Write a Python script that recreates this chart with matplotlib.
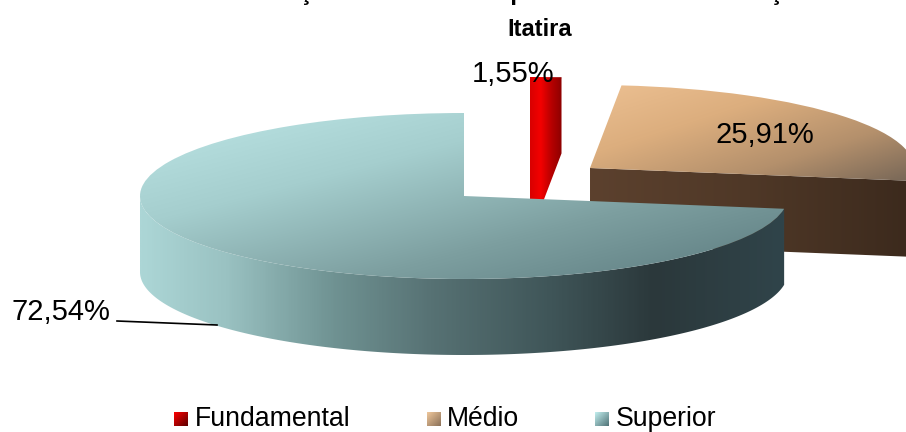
import numpy as np
import matplotlib
matplotlib.use("Agg")
import matplotlib.pyplot as plt
from matplotlib.colors import LinearSegmentedColormap as LSC
from matplotlib.patches import Polygon, Rectangle

plt.rcParams['font.family'] = ['Liberation Sans', 'DejaVu Sans']

categories = ['Fundamental', 'Médio', 'Superior']
values = [1.55, 25.91, 72.54]
value_labels = ['1,55%', '25,91%', '72,54%']
title_cut = 'Distribuição dos docentes por nível de escolarização em'
title_line = 'Itatira'

W, H = 906, 432
RX, RY, DEPTH = 324, 83, 76
S = RX / RY
centers_px = [(530, 160), (590, 168), (464, 196)]
red_cols = ['#d80000', '#f40000', '#b80000', '#8c0000']
top_cols = [red_cols,
            ['#ecc092', '#dcae7e', '#b4906c', '#6f6154'],
            ['#bde6e6', '#a5cece', '#7d9fa0', '#5b7a7e']]
wall_cols = [red_cols,
             ['#5c412e', '#4f3827', '#3c2a1d'],
             [(0, '#acd6d6'), (.13, '#9ac2c2'), (.30, '#6f9292'), (.45, '#577274'),
              (.64, '#3f5558'), (.80, '#2b383b'), (1, '#30444a')]]

def Y(py):
    return (H - py) * S

fig = plt.figure(figsize=(W / 100, H / 100), dpi=100)
ax = fig.add_axes([0, 0, 1, 1])
wedges, _ = ax.pie(values, startangle=90, counterclock=False, radius=RX)
ax.set_aspect('auto')
ax.axis('off')

def grad_fill(patch, cols, extent, diag=False, z=1):
    n = 200
    xx, yy = np.meshgrid(np.linspace(0, 1, n), np.linspace(0, 1, n))
    g = (xx + yy) / 2 if diag else xx
    cm = LSC.from_list('c', cols)
    im = ax.imshow(g, cmap=cm, vmin=0, vmax=1, extent=extent, aspect='auto',
                   origin='upper', zorder=z, interpolation='bilinear')
    im.set_clip_path(patch)

def arc(cx, cy, t1, t2, n=300):
    t = np.radians(np.linspace(t1, t2, n))
    return np.c_[cx + RX * np.cos(t), cy + RX * np.sin(t)]

dz = DEPTH * S
for rank, i in enumerate([1, 0, 2]):
    w = wedges[i]
    cx_px, cy_px = centers_px[i]
    cx, cy = cx_px, Y(cy_px)
    w.set_center((cx, cy))
    w.set_facecolor('none')
    w.set_edgecolor('none')
    base = 2 + rank * 3
    t1, t2 = w.theta1, w.theta2
    if i in (0, 1):
        # radial cut face turned to the viewer
        a = arc(cx, cy, t1, t1, 1)[0]
        # the thin red slice shares one gradient, so its face runs under the top
        inner = [cx, cy + RX * 0.98] if i == 0 else [cx, cy]
        quad = np.array([inner, a, a - [0, dz], [cx, cy - dz]])
        p = Polygon(quad, closed=True, fc='none', ec='none', zorder=base)
        ax.add_patch(p)
        e = (min(cx, a[0]), max(cx, a[0]), cy - RX - dz, cy + RX)
        grad_fill(p, wall_cols[i], e, z=base)
    else:
        # front part of the outer wall
        top = arc(cx, cy, -180, t2)
        quad = np.r_[top, (top - [0, dz])[::-1]]
        p = Polygon(quad, closed=True, fc='none', ec='none', zorder=base)
        ax.add_patch(p)
        grad_fill(p, wall_cols[i], (quad[:, 0].min(), quad[:, 0].max(), cy - RX - dz, cy + RX), z=base)
    if i == 0:
        a = arc(cx, cy, t1, t1, 1)[0]
        ext, diag = (cx, a[0], cy - RX, cy + RX), False
    elif i == 1:
        ext, diag = (cx, cx + RX, cy - 0.25 * RX, cy + RX), True
    else:
        ext, diag = (cx - RX, cx + RX, cy - RX, cy + RX), True
    grad_fill(w, top_cols[i], ext, diag=diag, z=base + 1)
    w.set_zorder(base + 1)

# text
ax.text(202, Y(0), title_cut, ha='left', va='baseline', fontsize=17.4, fontweight='bold', zorder=20)
ax.text(540, Y(29), title_line, ha='center', va='center', fontsize=17, fontweight='bold', zorder=20)
lab_xy = [(513, 74), (765, 135), (61, 312)]
for (x, y), s in zip(lab_xy, value_labels):
    ax.text(x, Y(y), s, ha='center', va='center', fontsize=21, color='#000000', zorder=20)
ax.plot([117, 217], [Y(321), Y(325)], color='black', lw=1.2, zorder=20)

# legend
leg_x = [(174, 195), (427, 447), (595, 616)]
leg_cols = [['#ff0000', '#5a0000'], ['#f0c89c', '#8a7058'], ['#c4f0f0', '#4f7276']]
for (bx, tx), name, cols in zip(leg_x, categories, leg_cols):
    r = Rectangle((bx, Y(426)), 14, 14 * S, fc='none', ec='none', zorder=20)
    ax.add_patch(r)
    grad_fill(r, cols, (bx, bx + 14, Y(426), Y(412)), diag=True, z=20)
    ax.text(tx, Y(419), name, ha='left', va='center', fontsize=19.2, zorder=20)
ax.set_xlim(0, W)
ax.set_ylim(0, H * S)
fig.savefig('out.png', dpi=100)
